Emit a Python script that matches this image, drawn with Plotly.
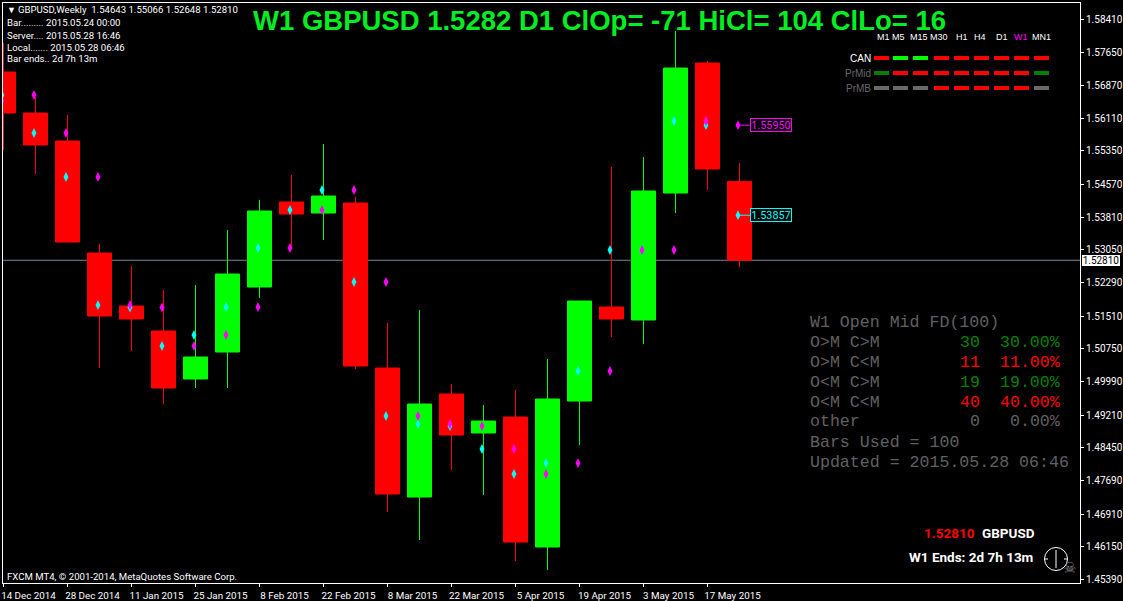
import pandas as pd
import plotly.graph_objects as go

# weekly candles GBPUSD
bar_dates = ['2014-12-14', '2014-12-21', '2014-12-28', '2015-01-04', '2015-01-11', '2015-01-18',
             '2015-01-25', '2015-02-01', '2015-02-08', '2015-02-15', '2015-02-22', '2015-03-01',
             '2015-03-08', '2015-03-15', '2015-03-22', '2015-03-29', '2015-04-05', '2015-04-12',
             '2015-04-19', '2015-04-26', '2015-05-03', '2015-05-10', '2015-05-17', '2015-05-24']
opens = [1.57185, 1.56232, 1.55582, 1.52979, 1.51747, 1.51166, 1.50051, 1.50678, 1.52189, 1.54164, 1.53908, 1.54141,
         1.50306, 1.47308, 1.49702, 1.48796, 1.49167, 1.46146, 1.49539, 1.51724, 1.51422, 1.54373, 1.57394, 1.54643]
highs = [1.57859, 1.56604, 1.56186, 1.53188, 1.52677, 1.52119, 1.52235, 1.53513, 1.54211, 1.54792, 1.55512, 1.54280,
         1.51352, 1.51654, 1.49934, 1.49446, 1.49795, 1.50515, 1.51863, 1.54977, 1.55210, 1.58138, 1.57441, 1.55066]
lows = [1.55373, 1.54815, 1.53234, 1.50306, 1.50701, 1.49470, 1.49841, 1.49841, 1.51933, 1.53095, 1.53281, 1.50283,
        1.46960, 1.46309, 1.47936, 1.47355, 1.45821, 1.45612, 1.48517, 1.51027, 1.50864, 1.53908, 1.54443, 1.52648]
closes = [1.56232, 1.55489, 1.53234, 1.51515, 1.51445, 1.49841, 1.50562, 1.52491, 1.53955, 1.53885, 1.54303, 1.50353,
          1.47378, 1.49470, 1.48749, 1.49074, 1.46262, 1.49586, 1.51863, 1.51445, 1.54420, 1.57278, 1.54931, 1.52810]

# mid levels, cyan = this bar, magenta = previous bar
cyan_mid = [1.56651, 1.55768, 1.54745, 1.51770, 1.51712, 1.50818, 1.51073, 1.51724, 1.53095, 1.53978, 1.54443, 1.52305,
            1.49191, 1.49005, 1.48958, 1.48424, 1.47843, 1.48098, 1.50237, 1.53049, 1.53049, 1.56047, 1.55950, 1.53857]
magenta_mid = [1.56511, 1.56651, 1.55768, 1.54745, 1.51770, 1.51712, 1.50818, 1.51073, 1.51724, 1.53095, 1.53978, 1.54443,
               1.52305, 1.49191, 1.49005, 1.48958, 1.48424, 1.47843, 1.48098, 1.50237, 1.53049, 1.53049, 1.56047, 1.55950]

price_ticks = [1.58410, 1.57650, 1.56870, 1.56110, 1.55350, 1.54570, 1.53810, 1.53050, 1.52290,
               1.51510, 1.50750, 1.49990, 1.49210, 1.48450, 1.47690, 1.46910, 1.46150, 1.45390]
date_ticks = ['2014-12-14', '2014-12-28', '2015-01-11', '2015-01-25', '2015-02-08', '2015-02-22',
              '2015-03-08', '2015-03-22', '2015-04-05', '2015-04-19', '2015-05-03', '2015-05-17']
date_labels = ['14 Dec 2014', '28 Dec 2014', '11 Jan 2015', '25 Jan 2015', '8 Feb 2015', '22 Feb 2015',
               '8 Mar 2015', '22 Mar 2015', '5 Apr 2015', '19 Apr 2015', '3 May 2015', '17 May 2015']
last_price = 1.52810

# panels
info_lines = ['Bar......... 2015.05.24 00:00', 'Server.... 2015.05.28 16:46',
              'Local....... 2015.05.28 06:46', 'Bar ends.. 2d 7h 13m']
tf_labels = ['M1', 'M5', 'M15', 'M30', 'H1', 'H4', 'D1', 'W1', 'MN1']
signal_rows = ['CAN', 'PrMid', 'PrMB']
signal_colors = [
    ['#ff0000', '#00ff00', '#00ff00', '#ff0000', '#ff0000', '#ff0000', '#ff0000', '#ff0000', '#ff0000'],
    ['#008000', '#ff0000', '#ff0000', '#ff0000', '#ff0000', '#ff0000', '#ff0000', '#ff0000', '#008000'],
    ['#696969', '#696969', '#696969', '#ff0000', '#ff0000', '#ff0000', '#ff0000', '#ff0000', '#696969'],
]
stat_labels = ['O>M C>M', 'O>M C<M', 'O<M C>M', 'O<M C<M', 'other']
stat_counts = ['30', '11', '19', '40', '0']
stat_pcts = ['30.00%', '11.00%', '19.00%', '40.00%', '0.00%']
stat_colors = ['#008000', '#ff0000', '#008000', '#ff0000', '#606060']

SMALL = 'Roboto'
W, H = 1123, 601
L, R, T, B = 3, 1080, 3, 583


def px(x):
    return (x - L) / (R - L)


def py(y):
    return 1 - (y - T) / (B - T)


annots = []


def label(x, y, text, color='white', size=9.6, family=SMALL, anchor='left', bold=False):
    if bold:
        text = '<b>' + text + '</b>'
    annots.append(dict(xref='paper', yref='paper', x=px(x), y=py(y), text=text, showarrow=False,
                       xanchor=anchor, yanchor='middle', align=anchor, borderpad=0, borderwidth=0,
                       font=dict(color=color, size=size, family=family)))


fig = go.Figure()

fig.add_trace(go.Candlestick(
    x=bar_dates, open=opens, high=highs, low=lows, close=closes,
    increasing=dict(line=dict(color='#00ff00', width=1), fillcolor='#00ff00'),
    decreasing=dict(line=dict(color='#ff0000', width=1), fillcolor='#ff0000'),
    showlegend=False))

# the diamonds sit a little left of the candle centre
marker_x = pd.to_datetime(bar_dates) - pd.Timedelta(hours=8)
fig.add_trace(go.Scatter(x=marker_x, y=cyan_mid, mode='markers', showlegend=False,
                         marker=dict(symbol='diamond-tall', size=7, color='#00ffff')))
fig.add_trace(go.Scatter(x=marker_x, y=magenta_mid, mode='markers', showlegend=False,
                         marker=dict(symbol='diamond-tall', size=7, color='#ff00ff')))

# chart header
label(7, 10, '▼', size=9)
label(18, 10, 'GBPUSD,Weekly  %.5f %.5f %.5f %.5f' % (opens[-1], highs[-1], lows[-1], closes[-1]))
for i, line in enumerate(info_lines):
    label(7, 23 + 12 * i, line)
label(253, 20, 'W1 GBPUSD 1.5282 D1 ClOp= -71 HiCl= 104 ClLo= 16', color='#00ee22', size=27.5,
      family='Liberation Sans', bold=True)
label(7, 576, 'FXCM MT4, © 2001-2014, MetaQuotes Software Corp.')

# signal matrix
tf_x = [883, 899, 919, 939, 962, 980, 1002, 1021, 1041]
seg_x = [874, 893, 913, 934, 954, 974, 994, 1014, 1034]
row_y = [58, 73, 88]
row_text = ['white', '#696969', '#696969']
seg_shapes = []
for x, tf in zip(tf_x, tf_labels):
    label(x, 37, tf, color='#ff00ff' if tf == 'W1' else 'white', size=9, family='Liberation Sans', anchor='center')
for y, name, tcol, cols in zip(row_y, signal_rows, row_text, signal_colors):
    label(871, y, name, color=tcol, size=10, family='Liberation Sans', anchor='right')
    for x, c in zip(seg_x, cols):
        seg_shapes.append(dict(type='rect', xref='paper', yref='paper', x0=px(x), x1=px(x + 15),
                               y0=py(y - 2), y1=py(y + 2), fillcolor=c, line=dict(width=0)))

# stats panel
MONO = 'Liberation Mono'
GREY = '#606060'
label(810, 322, 'W1 Open Mid FD(100)', color=GREY, size=16.6, family=MONO)
for i in range(len(stat_labels)):
    y = 342 + 20 * i
    label(810, y, stat_labels[i], color=GREY, size=16.6, family=MONO)
    label(980, y, stat_counts[i], color=stat_colors[i], size=16.6, family=MONO, anchor='right')
    label(1060, y, stat_pcts[i], color=stat_colors[i], size=16.6, family=MONO, anchor='right')
label(810, 442, 'Bars Used = 100', color=GREY, size=16.6, family=MONO)
label(810, 462, 'Updated = 2015.05.28 06:46', color=GREY, size=16.6, family=MONO)

# bottom right
label(924, 533, '%.5f' % last_price, color='#ff0000', size=13.5, family='Roboto', bold=True)
label(982, 533, 'GBPUSD', color='white', size=13.5, family='Roboto', bold=True)
label(909, 557, 'W1 Ends: 2d 7h 13m', color='white', size=13.5, family='Roboto', bold=True)
label(1069, 568, '☠', color='#808080', size=15, family='DejaVu Sans', anchor='center')

# level boxes at the last bar
for value, col, text in [(magenta_mid[-1], '#ff00ff', '1.55950'), (cyan_mid[-1], '#00ffff', '1.53857')]:
    annots.append(dict(x=marker_x[-1], y=value, xref='x', yref='y', text=text, showarrow=True,
                       ax=33, ay=0, axref='pixel', ayref='pixel', arrowhead=0, arrowwidth=1, arrowcolor=col,
                       standoff=0, bordercolor=col, borderwidth=1, borderpad=0, bgcolor='black',
                       width=40, height=12, font=dict(color=col, size=10.8, family=SMALL)))

# last price flag
annots.append(dict(xref='paper', yref='y', x=1, xshift=2, y=last_price, xanchor='left', yanchor='middle',
                   text='%.5f' % last_price, showarrow=False, bgcolor='white', width=38, height=11,
                   borderpad=0, borderwidth=0, font=dict(color='black', size=10, family=SMALL)))

shapes = [dict(type='line', xref='paper', yref='y', x0=0, x1=1, y0=last_price, y1=last_price,
               layer='below', line=dict(color='#778899', width=1))] + seg_shapes

# little clock
cx, cy, cr = 1056, 559, 11.5
shapes.append(dict(type='circle', xref='paper', yref='paper', x0=px(cx - cr), x1=px(cx + cr),
                   y0=py(cy - cr), y1=py(cy + cr), line=dict(color='white', width=1)))
shapes.append(dict(type='line', xref='paper', yref='paper', x0=px(cx), x1=px(cx),
                   y0=py(cy - 9), y1=py(cy + 9), line=dict(color='white', width=1)))
for dx in [-11, 8]:
    shapes.append(dict(type='line', xref='paper', yref='paper', x0=px(cx + dx), x1=px(cx + dx + 3),
                       y0=py(cy), y1=py(cy), line=dict(color='white', width=1)))

fig.update_layout(
    width=W, height=H, autosize=False,
    margin=dict(l=L, r=W - R, t=T, b=H - B, pad=0, autoexpand=False),
    paper_bgcolor='black', plot_bgcolor='black',
    boxgap=0.25, boxgroupgap=0, showlegend=False,
    annotations=annots, shapes=shapes,
    font=dict(family=SMALL, size=10, color='white'),
)
fig.update_xaxes(type='date', range=['2014-12-13 21:22', '2015-08-06 11:30'], rangeslider_visible=False,
                 showgrid=False, zeroline=False, showline=True, mirror=True, linecolor='white', linewidth=1,
                 ticks='outside', ticklen=3, tickcolor='white', tickwidth=1, automargin=False,
                 tickmode='array', tickvals=date_ticks, ticktext=date_labels, tickangle=0,
                 ticklabelshift=25, ticklabeloverflow='allow',
                 tickfont=dict(color='white', size=9.8, family=SMALL))
fig.update_yaxes(range=[1.45310, 1.58789], side='right',
                 showgrid=False, zeroline=False, showline=True, mirror=True, linecolor='white', linewidth=1,
                 ticks='outside', ticklen=3, tickcolor='white', tickwidth=1, automargin=False,
                 tickmode='array', tickvals=price_ticks, tickformat='.5f', ticklabeloverflow='allow',
                 tickfont=dict(color='white', size=10, family=SMALL))

fig.write_html("out.html", config={'displayModeBar': False},
               post_script="document.body.style.margin='0';document.body.style.background='black';document.body.style.overflow='hidden';")
